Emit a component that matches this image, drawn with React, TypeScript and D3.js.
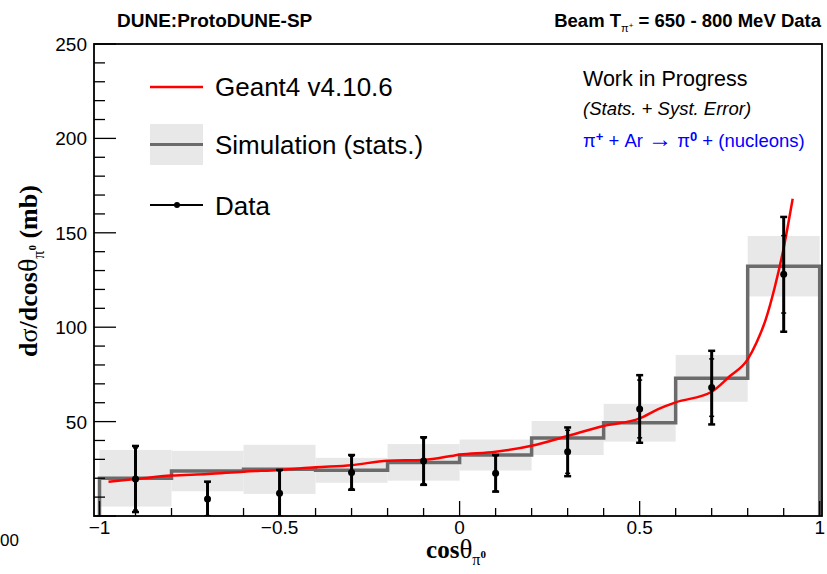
import React, { useEffect, useRef } from "react";
import * as d3 from "d3";

// simulation histogram, 10 bins of width 0.2 from -1 to 1
const binEdges = [-1, -0.8, -0.6, -0.4, -0.2, 0, 0.2, 0.4, 0.6, 0.8, 1];
const simValues = [20, 23.8, 24.7, 24.2, 28.4, 32.3, 41.3, 49.4, 72.9, 132.3];
const simErrors = [15, 10.7, 13, 6.6, 9.7, 8.2, 9, 10, 12.4, 16];

// data points at bin centres
const dataX = [-0.9, -0.7, -0.5, -0.3, -0.1, 0.1, 0.3, 0.5, 0.7, 0.9];
const dataY = [19.6, 9, 12, 23.1, 29.1, 22.6, 34, 56.7, 68, 128];
const statErr = [16.5, 8.8, 12, 8.6, 12, 9.3, 11.4, 15.3, 15.2, 20.5];
const totalErr = [17.5, 9.2, 12.4, 9.2, 12.6, 9.7, 12.9, 17.9, 19.5, 30.4];

// Geant4 prediction
const g4X = [-0.975, -0.9, -0.8, -0.7, -0.6, -0.5, -0.4, -0.3, -0.2, -0.1, 0, 0.1, 0.2, 0.3, 0.4, 0.5, 0.55, 0.6, 0.7, 0.75, 0.8, 0.825, 0.85, 0.875, 0.9, 0.925];
const g4Y = [18.2, 19.6, 21.4, 22.2, 23.5, 24.4, 25.8, 26.9, 29.3, 29.7, 32.5, 34, 37.2, 42.4, 47.7, 51.7, 56.5, 60.2, 65.8, 74, 83, 92, 104, 121, 142, 168];

const xTicks = [-1, -0.5, 0, 0.5, 1];
const xTickLabels = ["\u22121", "\u22120.5", "0", "0.5", "1"];
const yTicks = [50, 100, 150, 200, 250];

const App = () => {
  const svgRef = useRef<SVGSVGElement>(null);

  useEffect(() => {
    const svg = d3.select(svgRef.current);
    svg.selectAll("*").remove();

    const W = 827;
    const H = 574;
    const frame = { left: 94, right: 822, top: 44, bottom: 516 };

    const x = d3.scaleLinear().domain([-1, 1]).range([99.5, 819.7]);
    const y = d3.scaleLinear().domain([0, 250]).range([frame.bottom, frame.top]);

    svg.attr("width", W).attr("height", H);
    svg.append("rect").attr("width", W).attr("height", H).attr("fill", "#fff");

    const defs = svg.append("defs");
    defs
      .append("clipPath")
      .attr("id", "plot-clip")
      .append("rect")
      .attr("x", frame.left)
      .attr("y", frame.top)
      .attr("width", frame.right - frame.left)
      .attr("height", frame.bottom - frame.top);

    const plot = svg.append("g").attr("clip-path", "url(#plot-clip)");

    // gray stat bands
    simValues.forEach((v, i) => {
      plot
        .append("rect")
        .attr("x", x(binEdges[i]))
        .attr("width", x(binEdges[i + 1]) - x(binEdges[i]))
        .attr("y", y(v + simErrors[i]))
        .attr("height", y(v - simErrors[i]) - y(v + simErrors[i]))
        .attr("fill", "#e8e8e8");
    });

    // simulation histogram outline
    const histPts: [number, number][] = [[-1, 0]];
    simValues.forEach((v, i) => {
      histPts.push([binEdges[i], v]);
      histPts.push([binEdges[i + 1], v]);
    });
    histPts.push([1, 0]);
    plot
      .append("path")
      .datum(histPts)
      .attr("d", d3.line().x((d) => x(d[0])).y((d) => y(d[1])))
      .attr("fill", "none")
      .attr("stroke", "#6b6b6b")
      .attr("stroke-width", 3.5);

    // Geant4 curve
    const g4 = g4X.map((v, i) => [v, g4Y[i]] as [number, number]);
    plot
      .append("path")
      .datum(g4)
      .attr("d", d3.line().x((d) => x(d[0])).y((d) => y(d[1])).curve(d3.curveMonotoneX))
      .attr("fill", "none")
      .attr("stroke", "#ff0000")
      .attr("stroke-width", 2.5);

    // data points with error bars
    dataX.forEach((dx, i) => {
      const cx = x(dx);
      const g = plot.append("g");
      g.append("line")
        .attr("x1", cx).attr("x2", cx)
        .attr("y1", y(dataY[i] + totalErr[i]))
        .attr("y2", y(dataY[i] - totalErr[i]))
        .attr("stroke", "#000")
        .attr("stroke-width", 3);
      [dataY[i] + totalErr[i], dataY[i] - totalErr[i]].forEach((v) => {
        g.append("line")
          .attr("x1", cx - 3.5).attr("x2", cx + 3.5)
          .attr("y1", y(v)).attr("y2", y(v))
          .attr("stroke", "#000").attr("stroke-width", 2.5);
      });
      [dataY[i] + statErr[i], dataY[i] - statErr[i]].forEach((v) => {
        g.append("line")
          .attr("x1", cx - 2.5).attr("x2", cx + 2.5)
          .attr("y1", y(v)).attr("y2", y(v))
          .attr("stroke", "#000").attr("stroke-width", 1.5);
      });
      g.append("circle").attr("cx", cx).attr("cy", y(dataY[i])).attr("r", 3.5).attr("fill", "#000");
    });

    // frame
    svg
      .append("rect")
      .attr("x", frame.left)
      .attr("y", frame.top)
      .attr("width", frame.right - frame.left)
      .attr("height", frame.bottom - frame.top)
      .attr("fill", "none")
      .attr("stroke", "#000")
      .attr("stroke-width", 1.8);

    // x ticks
    const xMinor = d3.range(-10, 11).map((k) => k / 10);
    xMinor.forEach((t) => {
      const major = Math.abs(t * 2 - Math.round(t * 2)) < 1e-6;
      svg
        .append("line")
        .attr("x1", x(t)).attr("x2", x(t))
        .attr("y1", frame.bottom).attr("y2", frame.bottom - (major ? 15 : 8))
        .attr("stroke", "#000").attr("stroke-width", 1.3);
    });
    xTicks.forEach((t, i) => {
      svg
        .append("text")
        .attr("x", x(t))
        .attr("y", 534)
        .attr("text-anchor", "middle")
        .attr("font-family", "Liberation Sans, Arial, sans-serif")
        .attr("font-size", 19)
        .text(xTickLabels[i]);
    });

    // y ticks
    d3.range(0, 251, 10).forEach((t) => {
      const major = t % 50 === 0;
      svg
        .append("line")
        .attr("x1", frame.left).attr("x2", frame.left + (major ? 22 : 11))
        .attr("y1", y(t)).attr("y2", y(t))
        .attr("stroke", "#000").attr("stroke-width", 1.3);
    });
    yTicks.forEach((t) => {
      svg
        .append("text")
        .attr("x", 87)
        .attr("y", y(t) + 7)
        .attr("text-anchor", "end")
        .attr("font-family", "Liberation Sans, Arial, sans-serif")
        .attr("font-size", 19)
        .text(t);
    });

    // stray label piece at bottom left
    svg
      .append("text")
      .attr("x", 0)
      .attr("y", 546)
      .attr("font-family", "Liberation Sans, Arial, sans-serif")
      .attr("font-size", 17)
      .text("00");

    // axis titles
    const xt = svg
      .append("text")
      .attr("x", 456)
      .attr("y", 558)
      .attr("text-anchor", "middle")
      .attr("font-family", "Liberation Serif, Times New Roman, serif")
      .attr("font-weight", "bold")
      .attr("font-size", 25);
    xt.append("tspan").text("cos");
    xt.append("tspan").attr("font-weight", "normal").attr("font-size", 27).text("\u03b8");
    xt.append("tspan").attr("font-size", 16).attr("font-weight", "normal").attr("dy", 7).text("\u03c0");
    xt.append("tspan").attr("font-size", 11).attr("dy", -7).text("0");

    const yt = svg
      .append("text")
      .attr("transform", "translate(37,271) rotate(-90)")
      .attr("text-anchor", "middle")
      .attr("font-family", "Liberation Serif, Times New Roman, serif")
      .attr("font-weight", "bold")
      .attr("font-size", 26);
    yt.append("tspan").text("d");
    yt.append("tspan").attr("font-weight", "normal").text("\u03c3");
    yt.append("tspan").text("/dcos");
    yt.append("tspan").attr("font-weight", "normal").attr("font-size", 28).text("\u03b8");
    yt.append("tspan").attr("font-size", 16).attr("font-weight", "normal").attr("dy", 7).text("\u03c0");
    yt.append("tspan").attr("font-size", 11).attr("dy", -8).text("0");
    yt.append("tspan").attr("dy", 1).text(" (mb)");

    // headers
    svg
      .append("text")
      .attr("x", 117)
      .attr("y", 27)
      .attr("font-family", "Liberation Sans, Arial, sans-serif")
      .attr("font-weight", "bold")
      .attr("font-size", 19)
      .text("DUNE:ProtoDUNE-SP");
    const bt = svg
      .append("text")
      .attr("x", 821)
      .attr("y", 27)
      .attr("text-anchor", "end")
      .attr("font-family", "Liberation Sans, Arial, sans-serif")
      .attr("font-weight", "bold")
      .attr("font-size", 18.5);
    bt.append("tspan").text("Beam T");
    bt.append("tspan").attr("font-size", 11).attr("font-weight", "normal").attr("dy", 5).text("\u03c0");
    bt.append("tspan").attr("font-size", 8).attr("font-weight", "normal").attr("dy", -4).text("+");
    bt.append("tspan").attr("dy", -1).text(" = 650 - 800 MeV Data");

    // legend
    const lg = svg.append("g").attr("font-family", "Liberation Sans, Arial, sans-serif").attr("font-size", 26);
    lg.append("line").attr("x1", 150).attr("x2", 203).attr("y1", 87).attr("y2", 87).attr("stroke", "#ff0000").attr("stroke-width", 2.5);
    lg.append("text").attr("x", 215).attr("y", 96).text("Geant4 v4.10.6");
    lg.append("rect").attr("x", 150).attr("y", 124).attr("width", 53).attr("height", 41).attr("fill", "#e8e8e8");
    lg.append("line").attr("x1", 150).attr("x2", 203).attr("y1", 144.5).attr("y2", 144.5).attr("stroke", "#6b6b6b").attr("stroke-width", 3);
    lg.append("text").attr("x", 215).attr("y", 154).text("Simulation (stats.)");
    lg.append("line").attr("x1", 150).attr("x2", 203).attr("y1", 205).attr("y2", 205).attr("stroke", "#000").attr("stroke-width", 2);
    lg.append("circle").attr("cx", 177).attr("cy", 205).attr("r", 3).attr("fill", "#000");
    lg.append("text").attr("x", 215).attr("y", 215).text("Data");

    // annotations
    const an = svg.append("g").attr("font-family", "Liberation Sans, Arial, sans-serif");
    an.append("text").attr("x", 583).attr("y", 86).attr("font-size", 21.5).text("Work in Progress");
    an.append("text").attr("x", 583).attr("y", 115).attr("font-size", 18.5).attr("font-style", "italic").text("(Stats. + Syst. Error)");
    const rx = an.append("text").attr("x", 583).attr("y", 147).attr("font-size", 18.5).attr("fill", "#0000ff");
    rx.append("tspan").text("\u03c0");
    rx.append("tspan").attr("font-size", 13).attr("font-weight", "bold").attr("dy", -6).text("+");
    rx.append("tspan").attr("dy", 6).text(" + Ar ");
    rx.append("tspan").attr("font-size", 24).text("\u2192");
    rx.append("tspan").text(" \u03c0");
    rx.append("tspan").attr("font-size", 13).attr("font-weight", "bold").attr("dy", -6).text("0");
    rx.append("tspan").attr("dy", 6).text(" + (nucleons)");
  }, []);

  return <svg ref={svgRef} style={{ position: "absolute", left: 0, top: 0 }} />;
};

export default App;
